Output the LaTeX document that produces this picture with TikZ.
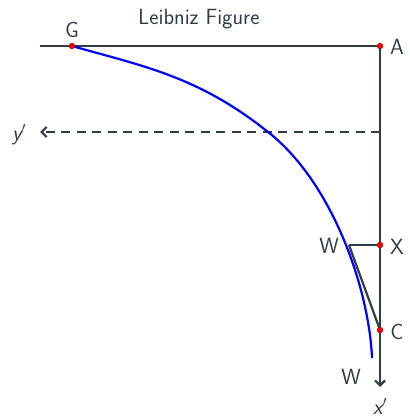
\documentclass[tikz,border=0pt]{standalone}
\usetikzlibrary{arrows.meta}
\definecolor{ink}{RGB}{47,62,70}
\begin{document}
\begin{tikzpicture}[x=1pt,y=-1pt,
  lbl/.style={font=\sffamily\fontsize{22}{22}\selectfont, text=ink, inner sep=0pt},
  axis/.style={draw=ink, line width=2.2pt},
  pt/.style={circle, fill=red, draw=red!70!black, line width=0.3pt, inner sep=0pt, minimum size=5.5pt},
  tip/.style={-{Straight Barb[length=5pt,width=10pt,line width=2.2pt]}}]
\useasboundingbox (0,0) rectangle (409,417);
% points
\coordinate (L) at (40,46);
\node[pt] (G) at (72,46) {};
\node[pt] (A) at (380,46) {};
\coordinate (D) at (380,132);
\coordinate (Yend) at (40,132);
\coordinate (Xend) at (380,387);
\node[pt] (X) at (380,245) {};
\coordinate (W) at (349,245);
\node[pt] (C) at (380,330) {};
\coordinate (M) at (268,132);
\coordinate (E) at (372,358);
% lines
\draw[axis] (L) -- (A.center);
\draw[axis, tip] (A.center) -- (Xend);
\draw[axis, dash pattern=on 9pt off 6.5pt, tip] (D) -- (Yend);
\draw[axis] (W) -- (X.center);
\draw[axis] (W) -- (C.center);
% curve
\draw[blue, line width=2.2pt] (G.center) .. controls (142,66) and (198,76) .. (M)
  .. controls (332,182) and (369,288) .. (E);
% points on top
\node[pt] at (G) {};
\node[pt] at (A) {};
\node[pt] at (X) {};
\node[pt] at (C) {};
% labels
\node[lbl, anchor=base west] (title) at (138,25) {Leibniz Figure};
\node[lbl] (lG) at (72,30) {G};
\node[lbl] (lA) at (397,47) {A};
\node[lbl] (lX) at (397,247) {X};
\node[lbl] (lW) at (329,246) {W};
\node[lbl] (lC) at (397,332) {C};
\node[lbl] (lW2) at (351,377) {W};
\node[lbl, anchor=base] (ly) at (19,140) {{\slshape y}$'$};
\node[lbl, anchor=base] (lx) at (380,414) {{\slshape x}$'$};
\end{tikzpicture}
\end{document}
